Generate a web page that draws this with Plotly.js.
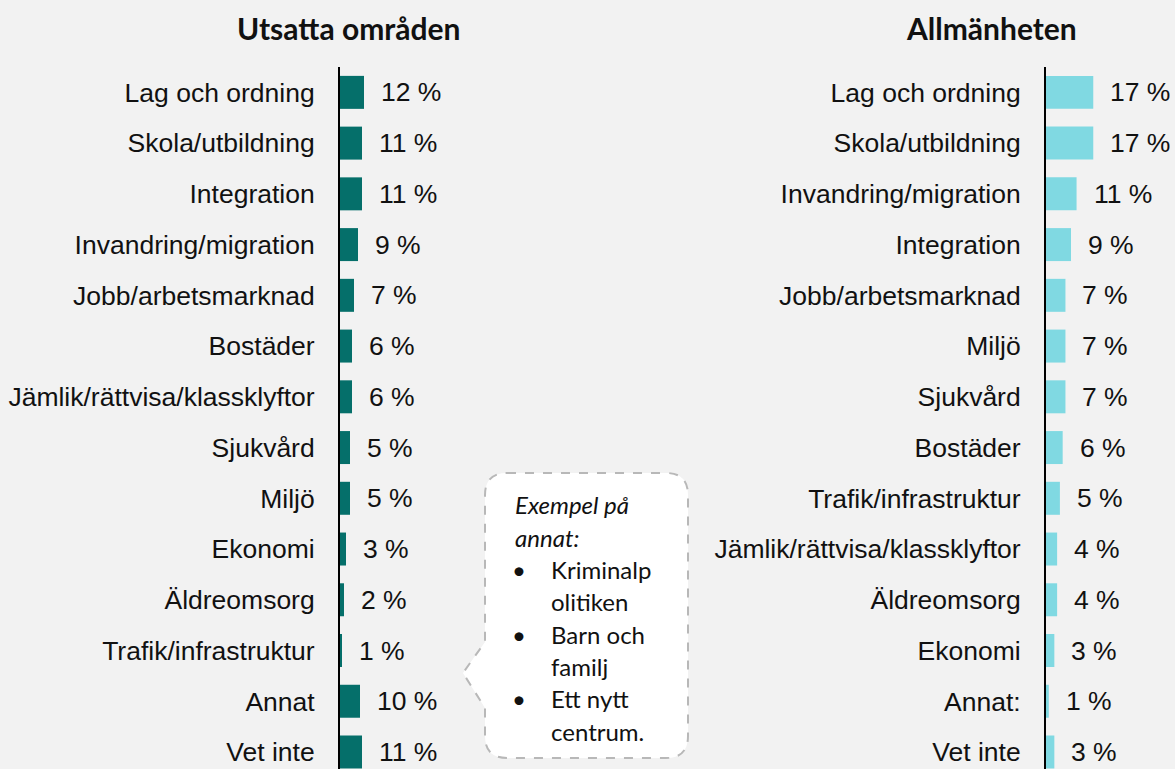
<!DOCTYPE html>
<html>
<head>
<meta charset="utf-8">
<script src="https://cdn.plot.ly/plotly-3.0.1.min.js"></script>
<style>html,body{margin:0;padding:0;background:#f2f2f2;}</style>
</head>
<body>
<div id="chart" style="width:1175px;height:769px;"></div>
<script>
// Data
const leftTitle = "Utsatta områden";
const rightTitle = "Allmänheten";
const leftCategories = ["Lag och ordning","Skola/utbildning","Integration","Invandring/migration","Jobb/arbetsmarknad","Bostäder","Jämlik/rättvisa/klassklyftor","Sjukvård","Miljö","Ekonomi","Äldreomsorg","Trafik/infrastruktur","Annat","Vet inte"];
const leftValues = [12,11,11,9,7,6,6,5,5,3,2,1,10,11];
const rightCategories = ["Lag och ordning","Skola/utbildning","Invandring/migration","Integration","Jobb/arbetsmarknad","Miljö","Sjukvård","Bostäder","Trafik/infrastruktur","Jämlik/rättvisa/klassklyftor","Äldreomsorg","Ekonomi","Annat:","Vet inte"];
const rightValues = [17,17,11,9,7,7,7,6,5,4,4,3,1,3];
const calloutTitle = ["Exempel på","annat:"];
const calloutItems = [["Kriminalp","olitiken"],["Barn och","familj"],["Ett nytt","centrum."]];

const W = 1175, H = 769;
const px = x => x / W;
const py = y => 1 - y / H;

const labelFont = {family: "Liberation Sans, Arial, sans-serif", size: 26.5, color: "#111"};

const traces = [
  {type: "bar", orientation: "h", x: leftValues, y: leftCategories, xaxis: "x", yaxis: "y",
   marker: {color: "#056f6a", line: {width: 0}}, hoverinfo: "x+y"},
  {type: "bar", orientation: "h", x: rightValues, y: rightCategories, xaxis: "x2", yaxis: "y2",
   marker: {color: "#80d9e2", line: {width: 0}}, hoverinfo: "x+y"}
];

const annotations = [];
leftValues.forEach((v, i) => annotations.push({
  x: v, y: leftCategories[i], xref: "x", yref: "y", text: v + " %", showarrow: false,
  xanchor: "left", yanchor: "middle", xshift: 15, font: labelFont
}));
rightValues.forEach((v, i) => annotations.push({
  x: v, y: rightCategories[i], xref: "x2", yref: "y2", text: v + " %", showarrow: false,
  xanchor: "left", yanchor: "middle", xshift: 15, font: labelFont
}));

const titleFont = {family: "Lato, Open Sans, sans-serif", size: 30, color: "#111", weight: "bold"};
annotations.push({x: px(348), y: py(28.5), xref: "paper", yref: "paper", text: "<b>" + leftTitle + "</b>", showarrow: false, xanchor: "center", yanchor: "middle", font: titleFont});
annotations.push({x: px(991.5), y: py(28.5), xref: "paper", yref: "paper", text: "<b>" + rightTitle + "</b>", showarrow: false, xanchor: "center", yanchor: "middle", font: titleFont});

// Callout text
const cFont = {family: "Lato, Open Sans, sans-serif", size: 24, color: "#111"};
let ly = 505;
calloutTitle.forEach(t => {
  annotations.push({x: px(513), y: py(ly), xref: "paper", yref: "paper", text: "<i>" + t + "</i>", showarrow: false, xanchor: "left", yanchor: "middle", font: cFont});
  ly += 32.3;
});
calloutItems.forEach(item => {
  annotations.push({x: px(510), y: py(ly), xref: "paper", yref: "paper", text: "•", showarrow: false, xanchor: "left", yanchor: "middle", font: cFont});
  item.forEach(t => {
    annotations.push({x: px(549), y: py(ly), xref: "paper", yref: "paper", text: t, showarrow: false, xanchor: "left", yanchor: "middle", font: cFont});
    ly += 32.3;
  });
});

// Callout bubble path (pixel -> paper)
const P = (x, y) => px(x).toFixed(5) + "," + py(y).toFixed(5);
const r = 22;
const L = 485, R = 688, T = 473, B = 758;
const path = "M" + P(L + r, T) + " L" + P(R - r, T) + " Q" + P(R, T) + " " + P(R, T + r) +
  " L" + P(R, B - r) + " Q" + P(R, B) + " " + P(R - r, B) +
  " L" + P(L + r, B) + " Q" + P(L, B) + " " + P(L, B - r) +
  " L" + P(L, 708) + " L" + P(463, 673) + " L" + P(L, 642) +
  " L" + P(L, T + r) + " Q" + P(L, T) + " " + P(L + r, T) + " Z";

const rowUnit = 50.74;
const yTop = 67;
const yRange = [(H - yTop) / rowUnit - 0.5, -0.5];

const layout = {
  width: W, height: H,
  margin: {l: 0, r: 0, t: 0, b: 0},
  paper_bgcolor: "#f2f2f2", plot_bgcolor: "rgba(0,0,0,0)",
  showlegend: false,
  bargap: 0.35,
  xaxis: {domain: [px(340), px(470)], range: [0, 65], showgrid: false, zeroline: false, showticklabels: false, showline: false, fixedrange: true},
  yaxis: {domain: [0, 1 - yTop / H], type: "category", range: yRange, showgrid: false, zeroline: false,
          showline: true, linecolor: "#000", linewidth: 2, ticks: "", ticklabelstandoff: 18, tickfont: labelFont, anchor: "x"},
  xaxis2: {domain: [px(1046), 1], range: [0, 46.4], showgrid: false, zeroline: false, showticklabels: false, showline: false, anchor: "y2"},
  yaxis2: {domain: [0, 1 - yTop / H], type: "category", range: yRange, showgrid: false, zeroline: false,
           showline: true, linecolor: "#000", linewidth: 2, ticks: "", ticklabelstandoff: 18, tickfont: labelFont, anchor: "x2"},
  shapes: [{type: "path", xref: "paper", yref: "paper", path: path, fillcolor: "#ffffff",
            line: {color: "#b8b8b8", width: 2, dash: "dash"}, layer: "below"}],
  annotations: annotations
};

Plotly.newPlot("chart", traces, layout, {displayModeBar: false, staticPlot: true});
</script>
</body>
</html>
